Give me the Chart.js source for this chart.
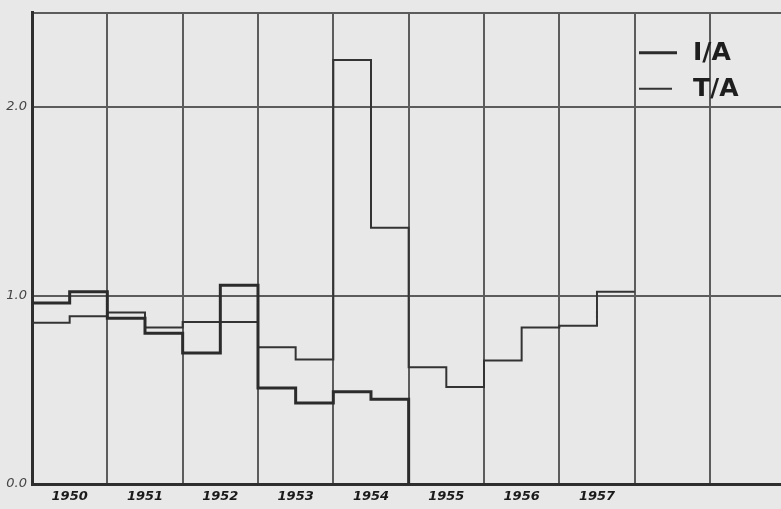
<!DOCTYPE html>
<html>
<head>
<meta charset="utf-8">
<script src="https://cdn.jsdelivr.net/npm/chart.js@4.4.0/dist/chart.umd.min.js"></script>
<style>
  html, body { margin: 0; padding: 0; background: #e8e8e8; }
  #contenedor { width: 781px; height: 509px; }
</style>
</head>
<body>
<div id="contenedor"><canvas id="graficoEscalones"></canvas></div>
<script>
// Años del eje X (una columna por año)
const years = ['1950', '1951', '1952', '1953', '1954', '1955', '1956', '1957'];

// Valores semestrales (cada valor cubre medio año)
const iaValues = [0.96, 1.02, 0.88, 0.80, 0.695, 1.055, 0.51, 0.43, 0.49, 0.45];
const taValues = [0.855, 0.89, 0.91, 0.83, 0.86, 0.86, 0.725, 0.66, 2.25, 1.36,
                  0.62, 0.515, 0.655, 0.83, 0.84, 1.02];

// Marcas del eje Y
const yTicks = [0, 1, 2];
const yLabels = ['0.0', '1.0', '2.0'];

// Convierte la serie semestral en puntos para una línea escalonada
function toSteps(values) {
	const pts = values.map((v, i) => ({ x: i * 0.5, y: v }));
	pts.push({ x: values.length * 0.5, y: values[values.length - 1] }); // cierre del último semestre
	return pts;
}

const iaPoints = toSteps(iaValues);
iaPoints.push({ x: iaValues.length * 0.5, y: 0 }); // la serie I/A baja hasta el eje

const taPoints = toSteps(taValues);

// Leyenda dibujada dentro del área del gráfico (arriba a la derecha)
const leyendaInterna = {
	id: 'leyendaInterna',
	afterDraw(chart) {
		const ctx = chart.ctx;
		const area = chart.chartArea;
		ctx.save();
		ctx.font = 'bold 25px "DejaVu Sans"';
		ctx.textBaseline = 'middle';
		ctx.fillStyle = '#1e1e1e';
		chart.data.datasets.forEach((ds, i) => {
			const y = area.top + 40 + i * 36;
			const x0 = area.right - 142;
			ctx.strokeStyle = ds.borderColor;
			ctx.lineWidth = ds.borderWidth;
			ctx.beginPath();
			ctx.moveTo(x0, y);
			ctx.lineTo(x0 + (i === 0 ? 38 : 33), y);
			ctx.stroke();
			ctx.fillText(ds.label, x0 + 54, y + 1);
		});
		ctx.restore();
	}
};

new Chart(document.getElementById('graficoEscalones'), {
	type: 'line',
	data: {
		datasets: [
			{
				label: 'I/A',
				data: iaPoints,
				stepped: true,
				borderColor: '#2b2b2b',
				borderWidth: 3,
				pointRadius: 0,
				fill: false
			},
			{
				label: 'T/A',
				data: taPoints,
				stepped: true,
				borderColor: '#333333',
				borderWidth: 2,
				pointRadius: 0,
				fill: false
			}
		]
	},
	options: {
		responsive: true,
		maintainAspectRatio: false,
		animation: false,
		layout: { padding: { top: 12, right: 0, bottom: 0, left: 0 } },
		plugins: {
			legend: { display: false },
			tooltip: { enabled: false }
		},
		scales: {
			x: {
				type: 'linear',
				min: 0,
				max: 9.943,
				afterBuildTicks: (scale) => {
					const t = [];
					for (let i = 0; i < 20; i++) t.push({ value: i * 0.5 });
					scale.ticks = t;
				},
				afterFit: (scale) => { scale.height = 25; },
				grid: {
					drawTicks: false,
					lineWidth: 2,
					color: (c) => (c.tick && Number.isInteger(c.tick.value)) ? '#5c5c5c' : 'rgba(0,0,0,0)'
				},
				border: { display: true, color: '#2e2e2e', width: 3 },
				ticks: {
					padding: 5,
					autoSkip: false,
					maxRotation: 0,
					color: '#1a1a1a',
					font: { family: 'DejaVu Sans', size: 13, style: 'italic', weight: 'bold' },
					callback: (v) => {
						const i = Math.floor(v);
						return (v % 1 === 0.5 && i < years.length) ? years[i] : '';
					}
				}
			},
			y: {
				min: 0,
				max: 2.5,
				afterBuildTicks: (scale) => {
					scale.ticks = [0, 1, 2, 2.5].map(v => ({ value: v }));
				},
				afterFit: (scale) => { scale.width = 32; },
				grid: {
					drawTicks: false,
					lineWidth: 2,
					color: '#5c5c5c'
				},
				border: { display: true, color: '#2e2e2e', width: 3 },
				ticks: {
					padding: 5,
					color: '#444444',
					font: { family: 'DejaVu Sans', size: 13, style: 'italic' },
					callback: (v) => {
						const i = yTicks.indexOf(v);
						return i >= 0 ? yLabels[i] : '';
					}
				}
			}
		}
	},
	plugins: [leyendaInterna]
});
</script>
</body>
</html>
